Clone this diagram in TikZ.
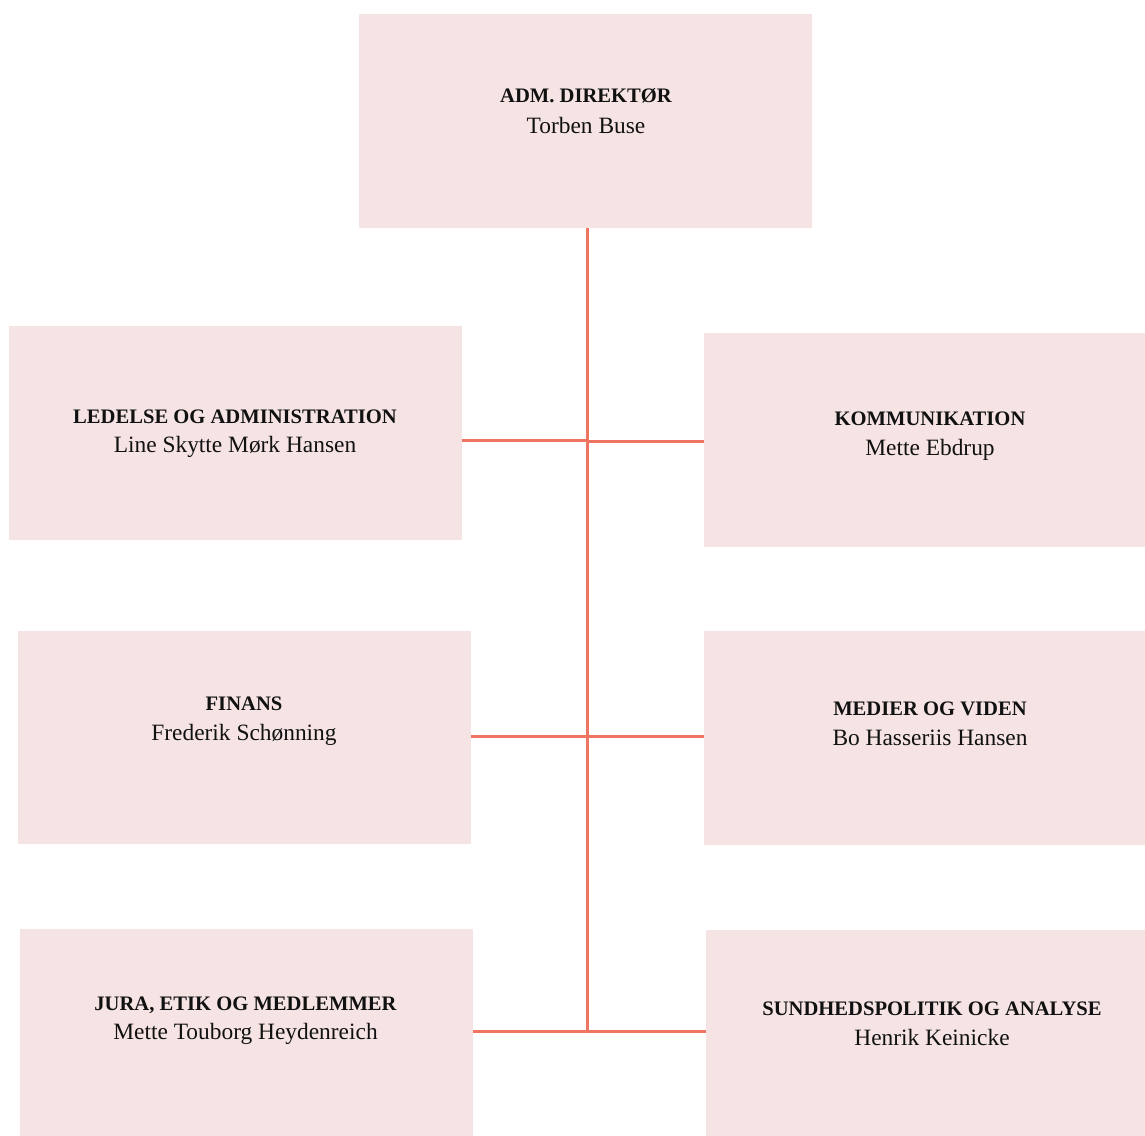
\documentclass[tikz,border=0pt]{standalone}
\usepackage{fontspec}
\setmainfont{Liberation Serif}
\definecolor{boxfill}{HTML}{F6E4E4}
\definecolor{linecol}{HTML}{EF7462}
\definecolor{txt}{HTML}{111111}
\begin{document}
\begin{tikzpicture}[x=1pt,y=-1pt,
  orgbox/.style={rectangle,fill=boxfill,draw=none,minimum width=453pt,minimum height=214pt,inner sep=0pt,outer sep=0pt},
  titletxt/.style={anchor=base,inner sep=0pt,text=txt,font=\fontsize{20.6}{24}\selectfont\bfseries},
  nametxt/.style={anchor=base,inner sep=0pt,text=txt,font=\fontsize{23.4}{27}\selectfont},
  conn/.style={draw=linecol,line width=2.6pt}]
\useasboundingbox (0,0) rectangle (1145,1135);
\clip (0,0) rectangle (1145,1135);
\fill[white] (0,0) rectangle (1145,1135);
% boxes
\node[orgbox] (top) at (585.5,121) {};
\node[orgbox] (l1) at (235.5,433) {};
\node[orgbox] (r1) at (930.5,440) {};
\node[orgbox,minimum height=213pt] (l2) at (244.5,737) {};
\node[orgbox] (r2) at (930.5,738) {};
\node[orgbox,minimum height=213pt] (l3) at (246.5,1035.5) {};
\node[orgbox,minimum height=213pt] (r3) at (932.5,1036.5) {};
% texts
\node[titletxt] (t0) at (586,102.5) {ADM. DIREKTØR};
\node[nametxt] (n0) at (586,133) {Torben Buse};
\node[titletxt] (t1) at (235,423) {LEDELSE OG ADMINISTRATION};
\node[nametxt] (n1) at (235,452.5) {Line Skytte Mørk Hansen};
\node[titletxt] (t2) at (930,425) {KOMMUNIKATION};
\node[nametxt] (n2) at (930,455) {Mette Ebdrup};
\node[titletxt] (t3) at (244,710) {FINANS};
\node[nametxt] (n3) at (244,740) {Frederik Schønning};
\node[titletxt] (t4) at (930,715.5) {MEDIER OG VIDEN};
\node[nametxt] (n4) at (930,745.5) {Bo Hasseriis Hansen};
\node[titletxt] (t5) at (245.5,1010) {JURA, ETIK OG MEDLEMMER};
\node[nametxt] (n5) at (245.5,1039) {Mette Touborg Heydenreich};
\node[titletxt] (t6) at (932,1015) {SUNDHEDSPOLITIK OG ANALYSE};
\node[nametxt] (n6) at (932,1045) {Henrik Keinicke};
% trunk coordinates
\coordinate (ttop) at (587.5,228);
\coordinate (j1) at (587.5,440.7);
\coordinate (j1r) at (587.5,441.7);
\coordinate (j2) at (587.5,736.7);
\coordinate (j3) at (587.5,1031.5);
% connectors
\draw[conn] (ttop) -- ([yshift=1.3pt]j3);
\draw[conn] (l1.east |- j1) -- (j1);
\draw[conn] (j1r) -- (r1.west |- j1r);
\draw[conn] (l2.east |- j2) -- (r2.west |- j2);
\draw[conn] (l3.east |- j3) -- (r3.west |- j3);
\end{tikzpicture}
\end{document}
